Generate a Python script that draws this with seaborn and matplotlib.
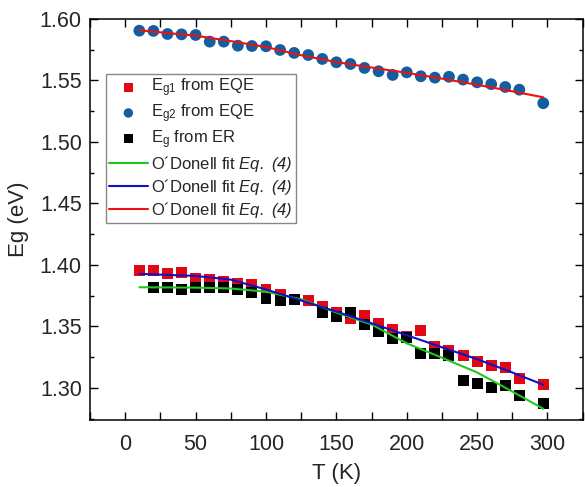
import numpy as np
import pandas as pd
import matplotlib
matplotlib.use("Agg")
import matplotlib.pyplot as plt
import seaborn as sns
from matplotlib.ticker import MultipleLocator

sns.set_style("ticks")
plt.rcParams['font.family'] = ['Liberation Sans', 'DejaVu Sans']
plt.rcParams['mathtext.fontset'] = 'custom'
plt.rcParams['mathtext.rm'] = 'Liberation Sans'
plt.rcParams['mathtext.it'] = 'Liberation Sans:italic'
plt.rcParams['mathtext.sf'] = 'Liberation Sans:italic'

# ---- data ----
T_eg1 = [10, 20, 30, 40, 50, 60, 70, 80, 90, 100, 110, 120, 130, 140, 150, 160, 170,
         180, 190, 200, 210, 220, 230, 240, 250, 260, 270, 280, 297]
Eg1 = [1.3954, 1.3954, 1.3927, 1.3935, 1.3892, 1.3878, 1.3864, 1.3850, 1.3843, 1.3797,
       1.3756, 1.3718, 1.3710, 1.3660, 1.3615, 1.3567, 1.3585, 1.3526, 1.3472, 1.3415,
       1.3463, 1.3336, 1.3303, 1.3260, 1.3214, 1.3179, 1.3168, 1.3079, 1.3030]

T_eg2 = [10, 20, 30, 40, 50, 60, 70, 80, 90, 100, 110, 120, 130, 140, 150, 160, 170,
         180, 190, 200, 210, 220, 230, 240, 250, 260, 270, 280, 297]
Eg2 = [1.5905, 1.5903, 1.5878, 1.5875, 1.5870, 1.5816, 1.5816, 1.5783, 1.5780, 1.5778,
       1.5748, 1.5724, 1.5707, 1.5675, 1.5648, 1.5634, 1.5602, 1.5575, 1.5545, 1.5566,
       1.5534, 1.5523, 1.5530, 1.5507, 1.5485, 1.5470, 1.5447, 1.5425, 1.5315]

T_er = [20, 30, 40, 50, 60, 70, 80, 90, 100, 110, 120, 140, 150, 160, 170, 180, 190,
        200, 210, 220, 230, 240, 250, 260, 270, 280, 297]
Eg_er = [1.3818, 1.3818, 1.3802, 1.3818, 1.3818, 1.3813, 1.3802, 1.3778, 1.3726, 1.3710,
         1.3715, 1.3613, 1.3580, 1.3612, 1.3512, 1.3458, 1.3398, 1.3410, 1.3282, 1.3282,
         1.3260, 1.3060, 1.3038, 1.3006, 1.3019, 1.2937, 1.2870]

T_fit = [10, 50, 75, 100, 125, 150, 175, 200, 225, 250, 275, 297]
fit_green = [1.3818, 1.3815, 1.3808, 1.3782, 1.3720, 1.3612, 1.3515, 1.3362, 1.3245,
             1.3125, 1.2970, 1.2830]
fit_blue = [1.3927, 1.3910, 1.3880, 1.3800, 1.3710, 1.3620, 1.3525, 1.3428, 1.3330,
            1.3233, 1.3125, 1.3025]
fit_red = [1.5908, 1.5864, 1.5820, 1.5772, 1.5705, 1.5650, 1.5605, 1.5562, 1.5515,
           1.5465, 1.5412, 1.5363]

labels = ["E$_{\\mathrm{g1}}$ from EQE", "E$_{\\mathrm{g2}}$ from EQE",
          "E$_{\\mathrm{g}}$ from ER",
          "O\u00b4Donell fit $\\mathsf{Eq.\\ (4)}$"]

c_red = "#E30613"
c_blue_pt = "#135EA0"
c_green = "#1EC81E"
c_blue_line = "#1010C8"
c_red_line = "#F01010"

fig = plt.figure(figsize=(5.85, 4.87), dpi=100)
ax = fig.add_axes([0.154, 0.138, 0.842, 0.823])

sns.scatterplot(x=T_eg1, y=Eg1, ax=ax, marker='s', s=62, color=c_red,
                edgecolor='none', label=labels[0], zorder=3)
sns.scatterplot(x=T_eg2, y=Eg2, ax=ax, marker='o', s=72, color=c_blue_pt,
                edgecolor='none', label=labels[1], zorder=3)
sns.scatterplot(x=T_er, y=Eg_er, ax=ax, marker='s', s=62, color='black',
                edgecolor='none', label=labels[2], zorder=3)
sns.lineplot(x=T_fit, y=fit_green, ax=ax, color=c_green, lw=1.5, label=labels[3], zorder=4)
sns.lineplot(x=T_fit, y=fit_blue, ax=ax, color=c_blue_line, lw=1.5, label=labels[3], zorder=4)
sns.lineplot(x=T_fit, y=fit_red, ax=ax, color=c_red_line, lw=1.5, label=labels[3], zorder=4)

ax.set_xlim(-25, 325)
ax.set_ylim(1.274, 1.6)
ax.xaxis.set_major_locator(MultipleLocator(50))
ax.xaxis.set_minor_locator(MultipleLocator(25))
ax.yaxis.set_major_locator(MultipleLocator(0.05))
ax.yaxis.set_minor_locator(MultipleLocator(0.025))
ax.yaxis.set_major_formatter(matplotlib.ticker.FormatStrFormatter('%.2f'))

for s in ax.spines.values():
    s.set_linewidth(1.1)
    s.set_color('black')
ax.tick_params(which='both', direction='in', top=True, right=True, labelsize=15.5,
               width=1.0, color='black', pad=6)
ax.tick_params(axis='x', which='major', length=5.5, pad=10)
ax.tick_params(axis='x', which='minor', length=5.5)
ax.tick_params(axis='y', which='major', length=5.5)
ax.tick_params(axis='y', which='minor', length=3)

ax.set_xlabel("T (K)", fontsize=16, labelpad=6)
ax.set_ylabel("Eg (eV)", fontsize=16, labelpad=8)

leg = ax.legend(loc='upper left', bbox_to_anchor=(0.032, 0.864), fontsize=12,
                frameon=True, fancybox=False, edgecolor='#888888', framealpha=1,
                borderpad=0.2, labelspacing=0.18, handlelength=2.3, handletextpad=0.2,
                borderaxespad=0, markerscale=0.8)
leg.get_frame().set_linewidth(1.0)

fig.savefig("out.png", dpi=100)
